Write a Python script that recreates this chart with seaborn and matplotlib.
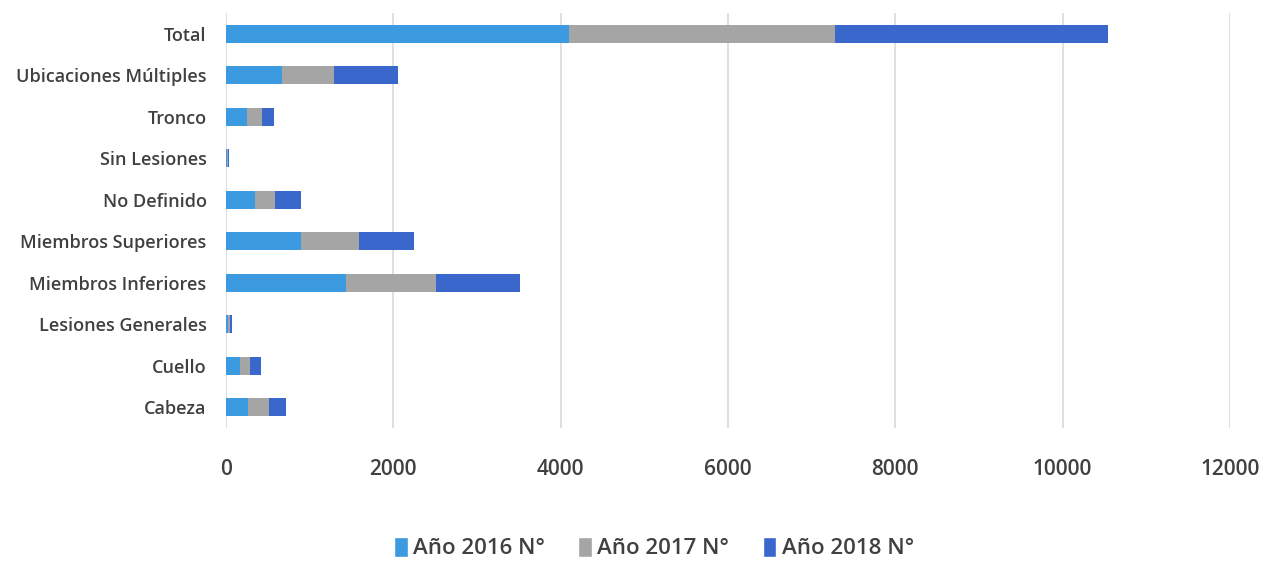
import matplotlib
matplotlib.use("Agg")
import matplotlib.pyplot as plt
import seaborn as sns
import pandas as pd
import numpy as np
from matplotlib.patches import Patch

categories = ["Total", "Ubicaciones Múltiples", "Tronco", "Sin Lesiones", "No Definido",
              "Miembros Superiores", "Miembros Inferiores", "Lesiones Generales", "Cuello", "Cabeza"]
y2016 = [4100, 675, 248, 12, 344, 898, 1432, 23, 164, 267]
y2017 = [3180, 615, 186, 12, 236, 686, 1076, 23, 127, 252]
y2018 = [3265, 770, 141, 12, 313, 668, 1004, 22, 122, 199]
series_names = ["Año 2016 N°", "Año 2017 N°", "Año 2018 N°"]
colors = ["#3C9AE0", "#A5A5A5", "#3A67CB"]
xticks = [0, 2000, 4000, 6000, 8000, 10000, 12000]

sns.set_theme(style="white")
plt.rcParams['font.family'] = ['Open Sans', 'DejaVu Sans']

df = pd.DataFrame({"cat": categories, "a": y2016, "b": y2017, "c": y2018})
df["c1"] = df["a"]
df["c2"] = df["a"] + df["b"]
df["c3"] = df["a"] + df["b"] + df["c"]

fig = plt.figure(figsize=(12.65, 5.63), dpi=100)
ax = fig.add_axes([226/1265, 1 - 428/563, (1230-226)/1265, (428-13)/563])

for col, color in zip(["c3", "c2", "c1"], colors[::-1]):
    sns.barplot(data=df, x=col, y="cat", order=categories, color=color,
                width=0.44, ax=ax, orient="h", saturation=1, linewidth=0)

ax.set_xlim(0, 12000)
ax.set_xticks(xticks)
ax.set_xticklabels([str(t) for t in xticks], fontsize=15, color="#404040", fontweight="semibold")
ax.set_yticklabels(categories, fontsize=13, color="#404040", fontweight="semibold")
ax.tick_params(axis="x", length=0, pad=22)
ax.tick_params(axis="y", length=0, pad=14)
ax.set_xlabel("")
ax.set_ylabel("")
ax.grid(axis="x", color="#D9D9D9", linewidth=1.2)
ax.set_axisbelow(True)
for s in ax.spines.values():
    s.set_visible(False)

handles = [Patch(facecolor=c, label=n) for c, n in zip(colors, series_names)]
fig.legend(handles=handles, loc="center", bbox_to_anchor=(654/1265, 1 - 548/563), ncol=3,
           frameon=False, handlelength=0.6, handleheight=1.0, handletextpad=0.25,
           columnspacing=1.5, prop={"weight": "semibold", "size": 16})
for t in fig.legends[0].get_texts():
    t.set_color("#404040")

fig.savefig("out.png", dpi=100)
